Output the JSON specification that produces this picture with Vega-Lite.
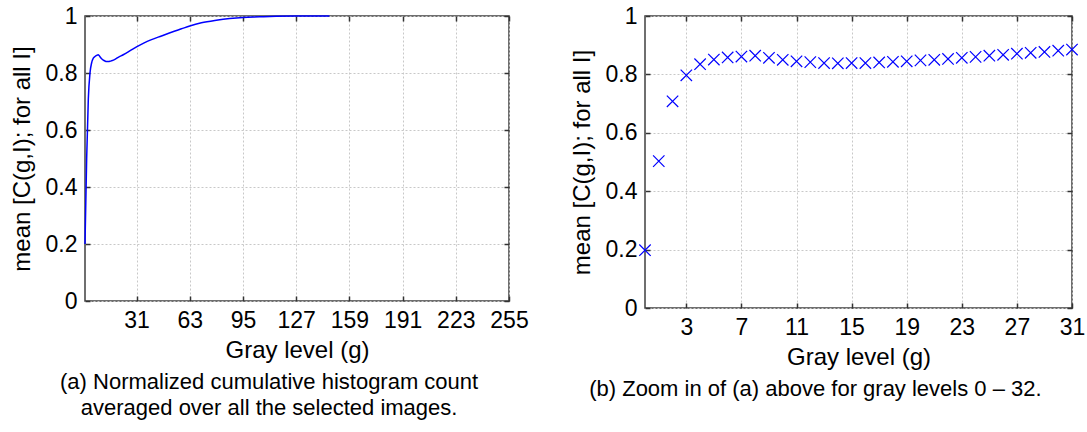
{
  "$schema": "https://vega.github.io/schema/vega-lite/v6.json",
  "background": "white",
  "padding": {"left": 9, "top": 4, "right": 0, "bottom": 5},
  "spacing": 40,
  "datasets": {
    "curve": [
      {"g": 0, "c": 0.2}, {"g": 1, "c": 0.5}, {"g": 2, "c": 0.71}, {"g": 3, "c": 0.8},
      {"g": 4, "c": 0.836}, {"g": 5, "c": 0.852}, {"g": 6, "c": 0.858}, {"g": 7, "c": 0.862},
      {"g": 8, "c": 0.864}, {"g": 9, "c": 0.857}, {"g": 10, "c": 0.85}, {"g": 11, "c": 0.845},
      {"g": 12, "c": 0.842}, {"g": 13, "c": 0.84}, {"g": 14, "c": 0.84}, {"g": 15, "c": 0.841},
      {"g": 16, "c": 0.843}, {"g": 18, "c": 0.848}, {"g": 20, "c": 0.855}, {"g": 23, "c": 0.864},
      {"g": 26, "c": 0.874}, {"g": 29, "c": 0.885}, {"g": 31, "c": 0.892}, {"g": 35, "c": 0.904},
      {"g": 40, "c": 0.917}, {"g": 46, "c": 0.93}, {"g": 52, "c": 0.943}, {"g": 58, "c": 0.955},
      {"g": 63, "c": 0.965}, {"g": 70, "c": 0.976}, {"g": 79, "c": 0.985}, {"g": 87, "c": 0.991},
      {"g": 95, "c": 0.995}, {"g": 105, "c": 0.997}, {"g": 115, "c": 0.999}, {"g": 127, "c": 1.0},
      {"g": 147, "c": 1.0}
    ],
    "zoom": [
      {"g": 0, "c": 0.198}, {"g": 1, "c": 0.503}, {"g": 2, "c": 0.708}, {"g": 3, "c": 0.797},
      {"g": 4, "c": 0.835}, {"g": 5, "c": 0.851}, {"g": 6, "c": 0.858}, {"g": 7, "c": 0.861},
      {"g": 8, "c": 0.864}, {"g": 9, "c": 0.857}, {"g": 10, "c": 0.85}, {"g": 11, "c": 0.845},
      {"g": 12, "c": 0.842}, {"g": 13, "c": 0.839}, {"g": 14, "c": 0.838}, {"g": 15, "c": 0.839},
      {"g": 16, "c": 0.839}, {"g": 17, "c": 0.841}, {"g": 18, "c": 0.843}, {"g": 19, "c": 0.845},
      {"g": 20, "c": 0.848}, {"g": 21, "c": 0.85}, {"g": 22, "c": 0.853}, {"g": 23, "c": 0.857},
      {"g": 24, "c": 0.86}, {"g": 25, "c": 0.864}, {"g": 26, "c": 0.867}, {"g": 27, "c": 0.871},
      {"g": 28, "c": 0.874}, {"g": 29, "c": 0.877}, {"g": 30, "c": 0.881}, {"g": 31, "c": 0.885}
    ]
  },
  "config": {
    "font": "Liberation Sans",
    "view": {"stroke": "#404040", "strokeWidth": 1.5},
    "axis": {
      "labelFont": "Liberation Sans", "labelFontSize": 23, "labelColor": "black", "labelOverlap": false, "labelFlush": false,
      "titleFont": "Liberation Sans", "titleFontSize": 24, "titleFontWeight": "normal", "titleColor": "black",
      "domain": false, "grid": true, "gridColor": "#c8c8c8", "gridDash": [2, 2], "gridWidth": 1,
      "tickColor": "#333333", "tickSize": -5, "tickWidth": 1.5, "labelPadding": 13
    },
    "title": {"font": "Liberation Sans", "fontSize": 22, "fontWeight": "normal", "color": "black"}
  },
  "hconcat": [
    {
      "width": 424,
      "height": 285,
      "title": {
        "text": ["(a) Normalized cumulative histogram count", "averaged over all the selected images."],
        "orient": "bottom", "anchor": "middle", "frame": "bounds", "lineHeight": 26, "offset": 10
      },
      "data": {"name": "curve"},
      "layer": [
        {
          "mark": {"type": "line", "color": "blue", "strokeWidth": 1.5, "interpolate": "monotone"},
          "encoding": {
            "x": {"field": "g", "type": "quantitative",
                  "scale": {"domain": [0, 255], "nice": false, "zero": false},
                  "axis": {"values": [31, 63, 95, 127, 159, 191, 223, 255], "title": "Gray level (g)", "titlePadding": 6}},
            "y": {"field": "c", "type": "quantitative",
                  "scale": {"domain": [0, 1], "nice": false},
                  "axis": {"values": [0, 0.2, 0.4, 0.6, 0.8, 1], "format": "~g", "title": "mean [C(g,I); for all I]", "titlePadding": 11}}
          }
        },
        {
          "mark": {"type": "line", "opacity": 0},
          "encoding": {
            "x": {"field": "g", "type": "quantitative",
                  "axis": {"orient": "top", "values": [31, 63, 95, 127, 159, 191, 223, 255], "labels": false, "grid": false, "title": null}},
            "y": {"field": "c", "type": "quantitative",
                  "axis": {"orient": "right", "values": [0, 0.2, 0.4, 0.6, 0.8, 1], "labels": false, "grid": false, "title": null}}
          }
        }
      ],
      "resolve": {"axis": {"x": "independent", "y": "independent"}}
    },
    {
      "width": 427,
      "height": 292,
      "title": {
        "text": "(b) Zoom in of (a) above for gray levels 0 – 32.",
        "orient": "bottom", "anchor": "middle", "frame": "bounds", "offset": 10, "dx": -12
      },
      "data": {"name": "zoom"},
      "layer": [
        {
          "mark": {"type": "point", "shape": "M-1,-1L1,1M-1,1L1,-1", "filled": false, "stroke": "blue", "strokeWidth": 1.2, "size": 130, "opacity": 1},
          "encoding": {
            "x": {"field": "g", "type": "quantitative",
                  "scale": {"domain": [0, 31], "nice": false, "zero": false},
                  "axis": {"values": [3, 7, 11, 15, 19, 23, 27, 31], "title": "Gray level (g)", "titlePadding": 6}},
            "y": {"field": "c", "type": "quantitative",
                  "scale": {"domain": [0, 1], "nice": false},
                  "axis": {"values": [0, 0.2, 0.4, 0.6, 0.8, 1], "format": "~g", "title": "mean [C(g,I); for all I]", "titlePadding": 11}}
          }
        },
        {
          "mark": {"type": "point", "opacity": 0},
          "encoding": {
            "x": {"field": "g", "type": "quantitative",
                  "axis": {"orient": "top", "values": [3, 7, 11, 15, 19, 23, 27, 31], "labels": false, "grid": false, "title": null}},
            "y": {"field": "c", "type": "quantitative",
                  "axis": {"orient": "right", "values": [0, 0.2, 0.4, 0.6, 0.8, 1], "labels": false, "grid": false, "title": null}}
          }
        }
      ],
      "resolve": {"axis": {"x": "independent", "y": "independent"}}
    }
  ]
}
